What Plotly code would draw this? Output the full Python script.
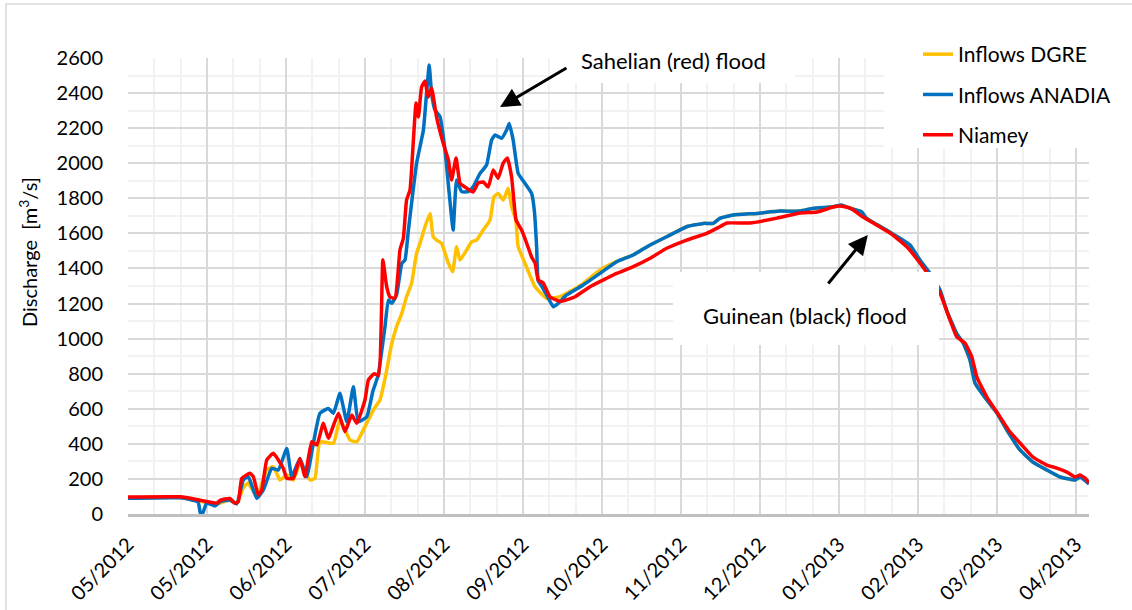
import pandas as pd
import plotly.graph_objects as go

START = "2012-05-01"

# ---- data (day offset from 01/05/2012, discharge m3/s) ----
dgre_day = [0, 20, 27, 33, 38.7, 41.3, 43.8, 45.6, 48.9, 52.7, 55.2, 57.7, 60.3, 62.8, 65.3, 69.1, 71, 72.9, 78, 80.5,
            84.3, 86.9, 90, 93.2, 95.7, 98, 100, 102, 104, 105.8, 107.7, 109.6, 110.9, 112.8, 114.7, 115.9, 117.2,
            119.1, 121.7, 123.3, 124.8, 126.1, 128.6, 130.5, 132.4, 134.9, 137.5, 139, 140.6, 142.5, 144.4, 145.7,
            147.3, 148.2, 150.8, 154.6, 159, 164.1, 166.6, 172.9, 179.3, 185.6, 191.9, 198.3, 204.6, 212.2, 218.5,
            222.3, 224.8, 229.9, 238.8, 247.6, 255.2, 260.3, 267.9, 271, 274.2, 278.6, 280.5, 288.1, 293.2, 297,
            300.8, 304.6, 308.4, 310.9, 314.7, 317.3, 319.8, 321.7, 326.2, 330, 333.8, 338.8, 343.7, 349, 354,
            359.7, 361.6, 365]
dgre_q = [92, 94, 75, 55, 78, 60, 150, 177, 100, 251, 270, 194, 222, 194, 289, 194, 203, 412, 403, 536,
          422, 412, 498, 593, 650, 800, 960, 1068, 1144, 1239, 1315, 1486, 1543, 1638, 1714, 1581, 1562,
          1543, 1429, 1381, 1524, 1448, 1505, 1552, 1562, 1619, 1676, 1809, 1828, 1790, 1857, 1752,
          1676, 1524, 1429, 1296, 1230, 1239, 1258, 1315, 1391, 1440, 1478, 1534, 1581, 1638, 1657,
          1657, 1686, 1705, 1714, 1727, 1727, 1743, 1752, 1760, 1743, 1724, 1686, 1619, 1572, 1534,
          1448, 1372, 1277, 1163, 1030, 973, 878, 747, 650, 576, 479, 365, 296, 251, 211,
          194, 211, 175]

anadia_day = [0, 20, 26.6, 27.5, 28.3, 29.9, 33, 35, 38.7, 41.3, 43.8, 45.7, 48.9, 51.4, 54.6, 57.1, 60.3, 62.2,
              65.3, 67.9, 70.4, 72.9, 76.1, 78, 80.5, 83.1, 85.6, 87.5, 90.7, 93, 95, 97.6, 98.9, 100.2, 102, 104,
              105.2, 106.5, 107.7, 109.6, 110.9, 112.2, 113.4, 114.4, 115.3, 116.6, 118.5, 120.4, 122, 123.5,
              124.8, 126.7, 129.2, 131.1, 133.7, 136.2, 138.1, 139.4, 141.9, 143.8, 144.8, 146.3, 148.2, 150.8,
              153.3, 154.4, 155.2, 155.8, 157.1, 159, 161.5, 163.4, 166.6, 172.9, 179.3, 185.6, 191.9, 198.3,
              204.6, 212.2, 218.5, 222.3, 224.8, 229.9, 238.8, 247.6, 255.2, 260.3, 267.9, 271, 274.2, 278.6,
              280.5, 288.1, 293.2, 297, 300.8, 304.6, 308.4, 310.9, 314.7, 317.3, 319.8, 321.7, 326.2, 330,
              333.8, 338.8, 343.7, 349, 354, 359.7, 361.6, 365]
anadia_q = [90, 92, 68, 5, 2, 63, 46, 70, 80, 57, 194, 213, 89, 137, 260, 251, 374, 213,
            317, 213, 403, 574, 602, 574, 688, 526, 726, 526, 555, 700, 790, 1068, 1220, 1201, 1249, 1429,
            1448, 1619, 1771, 1999, 2094, 2189, 2399, 2560, 2399, 2303, 2265, 2075, 1828, 1619,
            1904, 1838, 1838, 1866, 1942, 1990, 2132, 2161, 2142, 2189, 2227, 2132, 1942, 1885,
            1828, 1720, 1524, 1330, 1300, 1249, 1182, 1201, 1249, 1306, 1372, 1438, 1477, 1534,
            1581, 1638, 1657, 1657, 1686, 1705, 1714, 1727, 1727, 1743, 1752, 1762, 1743, 1724,
            1686, 1619, 1572, 1534, 1448, 1372, 1277, 1163, 1030, 973, 878, 747, 650, 576,
            479, 365, 296, 251, 211, 194, 211, 171]

niamey_day = [0, 20, 27, 33.7, 35, 38.7, 40.6, 41.9, 43.2, 46.3, 47.6, 49.5, 50.8, 52.7, 55.2, 57.1, 59, 60.3,
              62.8, 65.3, 67.2, 69.8, 71.7, 74.2, 76.1, 79.9, 82.4, 85, 86.9, 90, 91.3, 93.5, 95.2, 96.8, 98.2,
              99.5, 101.4, 103.3, 104.6, 105.8, 107.1, 108.4, 109.4, 110.3, 111.5, 112.8, 114, 115.3, 117.2,
              119.7, 121.7, 122.9, 124.6, 126.1, 128, 131.1, 133, 134.9, 136.8, 138.7, 140.6, 142.5, 144.1,
              145.7, 147.4, 149.5, 151.4, 153.3, 154.6, 155.8, 157.7, 160.3, 164.4, 169.8, 175.5, 181.8, 185.6,
              191.9, 198.3, 204.6, 212.2, 219.8, 224.8, 227.5, 236.2, 246.5, 255.2, 261.7, 267.8, 270.4, 274.2,
              279.2, 285.6, 290.5, 295.9, 300.8, 304.6, 308.4, 312.2, 314.8, 317.9, 320.5, 322.4, 326.2, 330,
              335, 338.8, 343.7, 349, 352.8, 356.6, 359.7, 361.6, 363.5, 365]
niamey_q = [97, 98, 80, 62, 78, 89, 62, 70, 203, 232, 213, 108, 137, 308, 346, 308, 260, 203,
            203, 317, 213, 412, 393, 517, 432, 574, 469, 564, 517, 650, 764, 800, 790, 1450, 1300,
            1237, 1231, 1505, 1574, 1790, 1847, 2132, 2343, 2263, 2434, 2469, 2377, 2429, 2263,
            2115, 2018, 1904, 2030, 1887, 1864, 1836, 1887, 1893, 1864, 1961, 1915, 2001, 2030,
            1921, 1676, 1619, 1545, 1465, 1431, 1334, 1317, 1237, 1212, 1239, 1296, 1344, 1372,
            1410, 1458, 1515, 1562, 1600, 1638, 1659, 1659, 1687, 1716, 1722, 1750, 1756, 1745,
            1693, 1636, 1591, 1522, 1431, 1351, 1260, 1106, 1009, 975, 895, 781, 667, 582,
            468, 405, 325, 279, 262, 239, 211, 222, 205, 177]

series_names = ["Inflows DGRE", "Inflows ANADIA", "Niamey"]
series_colors = ["#FFC000", "#0070C0", "#FF0000"]

# ---- layout geometry (pixels) ----
W, H = 1132, 610
L, R, T, B = 128, 1089, 58, 514
PW, PH = R - L, B - T


def px(x):
    return (x - L) / PW


def py(y):
    return (B - y) / PH


def day(d):
    return pd.Timestamp(START) + pd.Timedelta(days=d)


def to_date(days):
    return pd.Timestamp(START) + pd.to_timedelta(pd.Series(days, dtype=float), unit="D")


FONT = "Lato"
fig = go.Figure()
for i, (d, q) in enumerate([(dgre_day, dgre_q), (anadia_day, anadia_q), (niamey_day, niamey_q)]):
    fig.add_trace(go.Scatter(
        x=to_date(d), y=q, mode="lines", name=series_names[i],
        legendgroup=f"g{i}",
        line=dict(color=series_colors[i], width=3.5, shape="spline", smoothing=0.4),
    ))

DAY_MS = 86400000
fig.update_xaxes(
    type="date",
    range=[day(0), day(365)],
    tick0=START, dtick=30 * DAY_MS, tickformat="%m/%Y", tickangle=-45,
    showgrid=True, gridcolor="#D9D9D9", gridwidth=2,
    minor=dict(tick0=START, dtick=10 * DAY_MS, showgrid=True, gridcolor="#F2F2F2", gridwidth=1.5),
    showline=True, linecolor="#BFBFBF", linewidth=3,
    ticks="", ticklabelstandoff=8,
    tickfont=dict(family=FONT, size=20, color="#000000"),
    zeroline=False,
)
fig.update_yaxes(
    range=[0, 2600], dtick=200, tick0=0,
    showgrid=True, gridcolor="#D9D9D9", gridwidth=2,
    minor=dict(dtick=100, showgrid=True, gridcolor="#F2F2F2", gridwidth=1.5),
    showline=False, zeroline=False, ticks="", ticklabelstandoff=24,
    tickfont=dict(family=FONT, size=20, color="#000000"),
)

shapes = [
    # outer chart border
    dict(type="rect", xref="paper", yref="paper", x0=px(6), x1=px(1145), y0=py(620), y1=py(4),
         line=dict(color="#D9D9D9", width=1.5), fillcolor="rgba(0,0,0,0)", layer="below"),
    # white label boxes
    dict(type="rect", xref="paper", yref="paper", x0=px(553), x1=px(795), y0=py(83), y1=py(33),
         line=dict(width=0), fillcolor="white", layer="above"),
    dict(type="rect", xref="paper", yref="paper", x0=px(673), x1=px(939), y0=py(345), y1=py(272),
         line=dict(width=0), fillcolor="white", layer="above"),
    dict(type="rect", xref="paper", yref="paper", x0=px(884), x1=px(1132), y0=py(148), y1=py(22),
         line=dict(width=0), fillcolor="white", layer="above"),
]

annotations = [
    dict(xref="paper", yref="paper", x=px(28), y=py(252), xanchor="center", yanchor="middle",
         text="Discharge  [m<sup>3</sup>/s]",
         textangle=-90, showarrow=False, font=dict(family=FONT, size=20, color="#000000")),
    dict(xref="paper", yref="paper", x=px(673), y=py(60), xanchor="center", yanchor="middle",
         text="Sahelian (red) flood",
         showarrow=False, font=dict(family=FONT, size=22, color="#000000")),
    dict(xref="paper", yref="paper", x=px(805), y=py(315), xanchor="center", yanchor="middle",
         text="Guinean (black) flood",
         showarrow=False, font=dict(family=FONT, size=22, color="#000000")),
    # arrows (data coords)
    dict(x=day(141.3), y=2320, xref="x", yref="y",
         ax=day(167.1), ay=2548, axref="x", ayref="y",
         text="", showarrow=True, arrowhead=2, arrowsize=1.3, arrowwidth=3, arrowcolor="#000000"),
    dict(x=day(281), y=1591, xref="x", yref="y",
         ax=day(265.5), ay=1306, axref="x", ayref="y",
         text="", showarrow=True, arrowhead=2, arrowsize=1.3, arrowwidth=3, arrowcolor="#000000"),
]

fig.update_layout(
    width=W, height=H,
    margin=dict(l=L, r=W - R, t=T, b=H - B, autoexpand=False),
    paper_bgcolor="white", plot_bgcolor="white",
    shapes=shapes, annotations=annotations,
    showlegend=True,
    legend=dict(x=px(918), y=py(34), xanchor="left", yanchor="top",
                bgcolor="rgba(0,0,0,0)", font=dict(family=FONT, size=21, color="#000000"),
                tracegroupgap=10, itemwidth=30, borderwidth=0),
    font=dict(family=FONT),
)

fig.write_html("out.html", config={"displayModeBar": False},
               post_script="document.body.style.margin='0px';")
